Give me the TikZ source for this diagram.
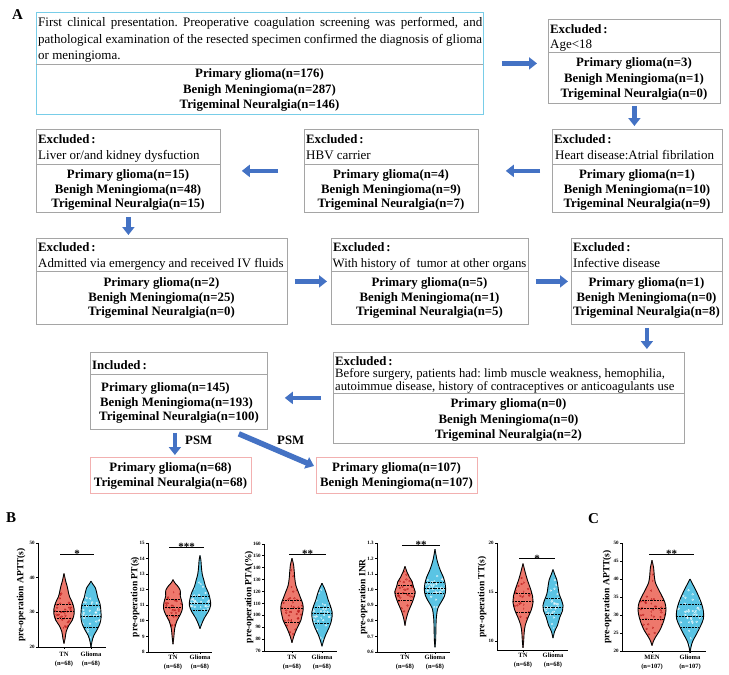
\documentclass[tikz,border=0pt]{standalone}
\usepackage{fontspec}
\setmainfont{Liberation Serif}
\usetikzlibrary{arrows.meta}
\definecolor{arrowblue}{RGB}{68,114,196}
\definecolor{cyanb}{RGB}{120,205,232}
\definecolor{grayb}{RGB}{165,165,165}
\definecolor{pinkb}{RGB}{242,176,176}
\definecolor{vred}{RGB}{238,120,108}
\definecolor{vredd}{RGB}{190,30,30}
\definecolor{vblue}{RGB}{90,196,228}
\definecolor{vblued}{RGB}{232,248,253}
\AtBeginDocument{\frenchspacing}

\newcommand\myviolin[8]{%
  \foreach \sgn in {1,-1}{%
    \begin{scope}[shift={(#1,0)}, xscale=1.12*\sgn]
      \fill[#2] plot[smooth, tension=0.55] coordinates {#4} -- cycle;
      \begin{scope}
        \clip plot[smooth, tension=0.55] coordinates {#4} -- cycle;
        \pgfmathtruncatemacro\sd{#8+5*\sgn+20}%
        \pgfmathsetseed{\sd}%
        \foreach \k in {1,...,40}{%
          \pgfmathsetmacro\dx{rnd*15}%
          \pgfmathsetmacro\dy{#5+(rand+rand)*(#7-#6)*1.1}%
          \draw[#3, line width=0.35pt] (\dx,\dy) circle[radius=0.85pt];
        }
        \draw[black, line width=1pt, dash pattern=on 2pt off 1pt] (0,#5) -- (20,#5);
        \draw[black, line width=0.5pt, dash pattern=on 0.8pt off 0.8pt] (0,#6) -- (20,#6) (0,#7) -- (20,#7);
      \end{scope}
      \draw[black, line width=0.9pt, line join=round] plot[smooth, tension=0.55] coordinates {#4};
    \end{scope}}}

\tikzset{
  box/.style={draw=grayb, line width=0.8pt, rectangle, anchor=north west, inner sep=0pt},
  sepline/.style={draw=grayb, line width=0.6pt},
  barrow/.style={draw=arrowblue, line width=4.5pt, -{Triangle[length=8pt,width=12pt]}},
  hd/.style={anchor=base west, inner sep=0pt, font=\bfseries\fontsize{12.8}{15}\selectfont},
  sub/.style={anchor=base west, inner sep=0pt, font=\fontsize{13}{15}\selectfont},
  cnt/.style={anchor=base, inner sep=0pt, font=\bfseries\fontsize{12.8}{15}\selectfont},
  cntw/.style={anchor=base west, inner sep=0pt, font=\bfseries\fontsize{12.8}{15}\selectfont},
  panel/.style={anchor=base west, inner sep=0pt, font=\bfseries\fontsize{15}{18}\selectfont},
  axisl/.style={black, line width=0.8pt},
  tickl/.style={anchor=east, inner sep=0.3pt, font=\bfseries\fontsize{5}{6}\selectfont},
  catl/.style={anchor=north, inner sep=0pt, align=center, font=\bfseries\fontsize{6.5}{9}\selectfont},
  ylab/.style={rotate=90, inner sep=0pt, font=\bfseries\fontsize{9.5}{11}\selectfont},
  sigl/.style={black, line width=0.9pt},
  starl/.style={anchor=base, inner sep=0pt, font=\bfseries\fontsize{11}{12}\selectfont},
}

\begin{document}
\begin{tikzpicture}[x=1pt, y=-1pt]
\useasboundingbox (0,0) rectangle (729,675);
\fill[white] (0,0) rectangle (729,675);

%================ PANEL A =================
\node[panel] (la) at (12,19) {A};

% Box 1
\node[box, draw=cyanb, minimum width=447pt, minimum height=102pt] (b1) at (36,12) {};
\node[sub] (b1l1) at (38,26.5) {\makebox[444pt][s]{First clinical presentation. Preoperative coagulation screening was performed, and}};
\node[sub] (b1l2) at (38,43) {\makebox[444pt][s]{pathological examination of the resected specimen confirmed the diagnosis of glioma}};
\node[sub] (b1l3) at (38,59.5) {or meningioma.};
\draw[sepline] (36,64) -- (483,64);
\node[cnt] (b1c1) at (259.5,77.5) {Primary glioma(n=176)};
\node[cnt] (b1c2) at (259.5,93) {Benigh Meningioma(n=287)};
\node[cnt] (b1c3) at (259.5,108.5) {Trigeminal Neuralgia(n=146)};

% Box 2 Age<18
\node[box, minimum width=172pt, minimum height=84pt] (b2) at (548,19) {};
\node[hd] (b2h) at (550,33) {Excluded\hspace{2pt}:};
\node[sub] (b2s) at (550,48) {Age<18};
\draw[sepline] (548,52) -- (720,52);
\node[cnt] (b2c1) at (634,66.5) {Primary glioma(n=3)};
\node[cnt] (b2c2) at (634,82) {Benigh Meningioma(n=1)};
\node[cnt] (b2c3) at (634,97.5) {Trigeminal Neuralgia(n=0)};

% Row 2
\node[box, minimum width=184pt, minimum height=83pt] (liver) at (36,129) {};
\node[hd] (liverh) at (38,143) {Excluded\hspace{2pt}:};
\node[sub] (livers) at (38,159) {Liver or/and kidney dysfuction};
\draw[sepline] (36,164) -- (220,164);
\node[cnt] (liverc1) at (128,178.5) {Primary glioma(n=15)};
\node[cnt] (liverc2) at (128,193) {Benigh Meningioma(n=48)};
\node[cnt] (liverc3) at (128,207.5) {Trigeminal Neuralgia(n=15)};

\node[box, minimum width=174pt, minimum height=83pt] (hbv) at (304,129) {};
\node[hd] (hbvh) at (306,143) {Excluded\hspace{2pt}:};
\node[sub] (hbvs) at (306,159) {HBV carrier};
\draw[sepline] (304,164) -- (478,164);
\node[cnt] (hbvc1) at (391,178.5) {Primary glioma(n=4)};
\node[cnt] (hbvc2) at (391,193) {Benigh Meningioma(n=9)};
\node[cnt] (hbvc3) at (391,207.5) {Trigeminal Neuralgia(n=7)};

\node[box, minimum width=170pt, minimum height=83pt] (heart) at (552,129) {};
\node[hd] (hearth) at (554,143) {Excluded\hspace{2pt}:};
\node[sub] (hearts) at (555,159) {Heart disease:Atrial fibrilation};
\draw[sepline] (552,164) -- (722,164);
\node[cnt] (heartc1) at (637,178.5) {Primary glioma(n=1)};
\node[cnt] (heartc2) at (637,193) {Benigh Meningioma(n=10)};
\node[cnt] (heartc3) at (637,207.5) {Trigeminal Neuralgia(n=9)};

% Row 3
\node[box, minimum width=251pt, minimum height=86pt] (adm) at (36,238) {};
\node[hd] (admh) at (38,251) {Excluded\hspace{2pt}:};
\node[sub, font=\fontsize{12.9}{15}\selectfont] (adms) at (38,267) {Admitted via emergency and received IV fluids};
\draw[sepline] (36,271.5) -- (287,271.5);
\node[cnt] (admc1) at (161.5,286.5) {Primary glioma(n=2)};
\node[cnt] (admc2) at (161.5,301) {Benigh Meningioma(n=25)};
\node[cnt] (admc3) at (161.5,315.5) {Trigeminal Neuralgia(n=0)};

\node[box, minimum width=197pt, minimum height=86pt] (hist) at (331,238) {};
\node[hd] (histh) at (333,251) {Excluded\hspace{2pt}:};
\node[sub, font=\fontsize{12.8}{15}\selectfont] (hists) at (332.5,267) {With history of\ \ tumor at other organs};
\draw[sepline] (331,271.5) -- (528,271.5);
\node[cnt] (histc1) at (429.5,286.5) {Primary glioma(n=5)};
\node[cnt] (histc2) at (429.5,301) {Benigh Meningioma(n=1)};
\node[cnt] (histc3) at (429.5,315.5) {Trigeminal Neuralgia(n=5)};

\node[box, minimum width=151pt, minimum height=86pt] (inf) at (571,238) {};
\node[hd] (infh) at (573,251) {Excluded\hspace{2pt}:};
\node[sub] (infs) at (573,267) {Infective disease};
\draw[sepline] (571,271.5) -- (722,271.5);
\node[cnt] (infc1) at (646.5,286.5) {Primary glioma(n=1)};
\node[cnt] (infc2) at (646.5,301) {Benigh Meningioma(n=0)};
\node[cnt] (infc3) at (646.5,315.5) {Trigeminal Neuralgia(n=8)};

% Row 4
\node[box, minimum width=351pt, minimum height=91pt] (ex4) at (333,352) {};
\node[hd] (ex4h) at (335,365.5) {Excluded\hspace{2pt}:};
\node[sub, font=\fontsize{12.7}{15}\selectfont] (ex4s1) at (335,377) {Before surgery, patients had: limb muscle weakness, hemophilia,};
\node[sub, font=\fontsize{12.7}{15}\selectfont] (ex4s2) at (335,390.5) {autoimmue disease, history of contraceptives or anticoagulants use};
\draw[sepline] (333,393.5) -- (684,393.5);
\node[cnt] (ex4c1) at (508.5,407.5) {Primary glioma(n=0)};
\node[cnt] (ex4c2) at (508.5,423) {Benigh Meningioma(n=0)};
\node[cnt] (ex4c3) at (508.5,438.5) {Trigeminal Neuralgia(n=2)};

\node[box, minimum width=177pt, minimum height=77pt] (inc) at (90,352) {};
\node[hd] (inch) at (92,369) {Included\hspace{2pt}:};
\draw[sepline] (90,374.5) -- (267,374.5);
\node[cntw] (incc1) at (101,391) {Primary glioma(n=145)};
\node[cntw] (incc2) at (100,406) {Benigh Meningioma(n=193)};
\node[cntw] (incc3) at (99,420.5) {Trigeminal Neuralgia(n=100)};

% PSM boxes
\node[box, draw=pinkb, minimum width=161pt, minimum height=36pt] (psm1) at (90,457) {};
\node[cnt] (psm1c1) at (170.5,471.5) {Primary glioma(n=68)};
\node[cnt] (psm1c2) at (170.5,486.5) {Trigeminal Neuralgia(n=68)};
\node[box, draw=pinkb, minimum width=161pt, minimum height=36pt] (psm2) at (316,457) {};
\node[cnt] (psm2c1) at (396.5,471.5) {Primary glioma(n=107)};
\node[cnt] (psm2c2) at (396.5,486.5) {Benigh Meningioma(n=107)};

\node[cntw] (psml1) at (185,444.5) {PSM};
\node[cntw] (psml2) at (277,444.5) {PSM};

% Arrows
\draw[barrow, shorten <=18pt, shorten >=11pt] (b1.east) -- (b1.east -| b2.west);
\draw[barrow, shorten <=2pt, shorten >=3pt] (b2.south) -- (b2.south |- heart.north);
\draw[barrow, shorten <=12pt, shorten >=27pt] (heart.west) -- (heart.west -| hbv.east);
\draw[barrow, shorten <=26pt, shorten >=21pt] (hbv.west) -- (hbv.west -| liver.east);
\draw[barrow, shorten <=4pt, shorten >=3pt] (liver.south) -- (liver.south |- adm.north);
\draw[barrow, shorten <=7pt, shorten >=4pt] (adm.east) -- (adm.east -| hist.west);
\draw[barrow, shorten <=7pt, shorten >=3pt] (hist.east) -- (hist.east -| inf.west);
\draw[barrow, shorten <=3pt, shorten >=3pt] (inf.south) -- (inf.south |- ex4.north);
\draw[barrow, shorten <=12pt, shorten >=17pt] (ex4.west) -- (ex4.west -| inc.east);
\draw[barrow, shorten <=3pt, shorten >=2pt] ([xshift=-4pt]inc.south) -- ([xshift=-4pt]inc.south |- psm1.north);
\draw[barrow, line width=5.5pt] ([xshift=-29pt,yshift=-4pt]inc.south east) -- ([xshift=-2pt,yshift=-9pt]psm2.north west);

%================ PANEL B / C =================
\node[panel] (lb) at (6,522) {B};
\node[panel] (lc) at (588,523) {C};

% Plot 1 APTT
\begin{scope}[shift={(38,647)}, y={(0,3.467pt)}, shift={(0,-20)}]
  \myviolin{26}{vred}{vredd}{(0,21) (1,22.5) (2,24.5) (4.5,26.3) (7.5,27.8) (9,29.5) (9,31) (7.5,32.8) (5,34.5) (3.8,36) (3,37.3) (1.5,39) (0.5,40.5) (0,41.2)}{30.3}{28.2}{32.2}{11}
  \myviolin{53}{vblue}{vblued}{(0,19.8) (0.8,21.5) (2.5,23.3) (5.5,25) (8,26.8) (9,28.5) (8.8,30.5) (8,32.5) (6,34.3) (5,35.8) (4,37) (1.5,38.2) (0,39)}{28.8}{25.8}{32}{12}
  \draw[axisl] (0,50) -- (0,20) -- (68,20);
  \foreach \t [count=\i] in {20,30,40,50}{\draw[axisl] (0,\t) -- (-2.5,\t); \node[tickl] (p1t\i) at (-3,\t) {\t};}
  \draw[axisl] (26,20) -- ([yshift=-2pt]26,20);
  \draw[axisl] (53,20) -- ([yshift=-2pt]53,20);
  \node[catl] (p1c1) at ([yshift=-5pt]26,20) {TN\\(n=68)};
  \node[catl] (p1c2) at ([yshift=-5pt]53,20) {Glioma\\(n=68)};
  \node[ylab] (p1y) at (-17,35) {pre-operation APTT(s)};
  \draw[sigl] (22,46.8) -- (56,46.8);
  \node[starl] (p1s) at ([yshift=-3.5pt]39,46.8) {*};
\end{scope}

% Plot 2 PT
\begin{scope}[shift={(148,652)}, y={(0,15.57pt)}, shift={(0,-8)}]
  \myviolin{25}{vred}{vredd}{(0,8.5) (0.8,9) (1.5,9.5) (3.5,10) (6.5,10.4) (8.5,10.8) (8,11.2) (6.5,11.6) (6.5,11.95) (4,12.25) (1.5,12.45) (0,12.65)}{10.85}{10.35}{11.4}{21}
  \myviolin{52}{vblue}{vblued}{(0,9.5) (1.5,9.8) (4,10.2) (7.5,10.6) (9.5,11) (9,11.4) (7.5,11.8) (5,12.2) (3.5,12.6) (2,13) (1.2,13.5) (0.8,13.9) (0,14.2)}{11.1}{10.7}{11.55}{22}
  \draw[axisl] (0,15) -- (0,8) -- (64,8);
  \foreach \t [count=\i] in {8,9,10,11,12,13,14,15}{\draw[axisl] (0,\t) -- (-2.5,\t); \node[tickl] (p2t\i) at (-3,\t) {\t};}
  \draw[axisl] (25,8) -- ([yshift=-2pt]25,8);
  \draw[axisl] (52,8) -- ([yshift=-2pt]52,8);
  \node[catl] (p2c1) at ([yshift=-3pt]25,8) {TN\\(n=68)};
  \node[catl] (p2c2) at ([yshift=-3pt]52,8) {Glioma\\(n=68)};
  \node[ylab] (p2y) at (-13,11.53) {pre-operation PT(s)};
  \draw[sigl] (21,14.74) -- (56,14.74);
  \node[starl] (p2s) at ([yshift=-3.5pt]38.5,14.74) {***};
\end{scope}

% Plot 3 PTA
\begin{scope}[shift={(264,651)}, y={(0,1.189pt)}, shift={(0,-70)}]
  \myviolin{28}{vred}{vredd}{(0,77) (1.5,82) (3.5,87) (6,92) (8,96) (9,100) (10,105) (9.5,110) (7.5,115) (5.5,120) (3.5,125) (2.5,131) (2,137) (1.5,142) (0,148)}{106}{94}{113}{31}
  \myviolin{58}{vblue}{vblued}{(0,74) (1.5,79) (3.5,84) (6,89) (8,94) (9,99) (9,103) (7.5,108) (5.5,113) (4,118) (2.5,122) (0,127)}{101.5}{93.5}{107}{32}
  \draw[axisl] (0,160) -- (0,70) -- (73,70);
  \foreach \t [count=\i] in {70,80,90,100,110,120,130,140,150,160}{\draw[axisl] (0,\t) -- (-2.5,\t); \node[tickl] (p3t\i) at (-3,\t) {\t};}
  \draw[axisl] (28,70) -- ([yshift=-2pt]28,70);
  \draw[axisl] (58,70) -- ([yshift=-2pt]58,70);
  \node[catl] (p3c1) at ([yshift=-4pt]28,70) {TN\\(n=68)};
  \node[catl] (p3c2) at ([yshift=-4pt]58,70) {Glioma\\(n=68)};
  \node[ylab] (p3y) at (-15,115.4) {pre-operation PTA(\%)};
  \draw[sigl] (25,151.6) -- (62,151.6);
  \node[starl] (p3s) at ([yshift=-3.5pt]43.5,151.6) {**};
\end{scope}

% Plot 4 INR
\begin{scope}[shift={(377,652)}, y={(0,155.7pt)}, shift={(0,-0.6)}]
  \myviolin{28}{vred}{vredd}{(0,0.77) (1,0.81) (3,0.86) (6,0.91) (8.5,0.96) (9,0.99) (7.5,1.02) (6.5,1.05) (4,1.08) (2,1.11) (0,1.15)}{0.975}{0.93}{1.03}{41}
  \myviolin{58}{vblue}{vblued}{(0,0.63) (0.6,0.68) (0.8,0.75) (1.2,0.82) (2.5,0.88) (5.5,0.92) (8.5,0.96) (9.5,1.0) (9,1.04) (7.5,1.08) (5,1.12) (3,1.16) (1.5,1.2) (0,1.26)}{1.01}{0.975}{1.05}{42}
  \draw[axisl] (0,1.3) -- (0,0.6) -- (73,0.6);
  \foreach \t [count=\i] in {0.6,0.7,0.8,0.9,1.0,1.1,1.2,1.3}{\draw[axisl] (0,\t) -- (-2.5,\t); \node[tickl] (p4t\i) at (-3,\t) {\t};}
  \draw[axisl] (28,0.6) -- ([yshift=-2pt]28,0.6);
  \draw[axisl] (58,0.6) -- ([yshift=-2pt]58,0.6);
  \node[catl] (p4c1) at ([yshift=-3pt]28,0.6) {TN\\(n=68)};
  \node[catl] (p4c2) at ([yshift=-3pt]58,0.6) {Glioma\\(n=68)};
  \node[ylab] (p4y) at (-14,0.953) {pre-operation INR};
  \draw[sigl] (25,1.287) -- (63,1.287);
  \node[starl] (p4s) at ([yshift=-3.5pt]44,1.287) {**};
\end{scope}

% Plot 5 TT
\begin{scope}[shift={(497,641)}, y={(0,9.8pt)}, shift={(0,-10)}]
  \myviolin{26}{vred}{vredd}{(0,9.3) (0.6,10) (1,10.8) (2,11.6) (4.5,12.4) (7.5,13.2) (9,14) (8.5,14.6) (6.5,15.4) (4,16.2) (2,17) (0,17.9)}{14}{12.9}{14.9}{51}
  \myviolin{56}{vblue}{vblued}{(0,10.3) (1.5,11) (4,11.6) (6,12.4) (8.5,13.1) (9,13.6) (7.5,14.2) (5.5,14.8) (4.5,15.5) (3.5,16.2) (1.5,16.8) (0,17.3)}{13.4}{12.7}{14.4}{52}
  \draw[axisl] (0,20) -- (0,9.08) -- (71,9.08);
  \foreach \t [count=\i] in {10,15,20}{\draw[axisl] (0,\t) -- (-2.5,\t); \node[tickl] (p5t\i) at (-3,\t) {\t};}
  \draw[axisl] (26,9.08) -- ([yshift=-2pt]26,9.08);
  \draw[axisl] (56,9.08) -- ([yshift=-2pt]56,9.08);
  \node[catl] (p5c1) at ([yshift=-3pt]26,9.08) {TN\\(n=68)};
  \node[catl] (p5c2) at ([yshift=-3pt]56,9.08) {Glioma\\(n=68)};
  \node[ylab] (p5y) at (-15,14.49) {pre-operation TT(s)};
  \draw[sigl] (22,18.4) -- (58,18.4);
  \node[starl] (p5s) at ([yshift=-3.5pt]40,18.4) {*};
\end{scope}

% Plot 6 APTT (C)
\begin{scope}[shift={(622,651)}, y={(0,3.6pt)}, shift={(0,-20)}]
  \myviolin{30}{vred}{vredd}{(0,21.5) (1,22.5) (3,23.8) (6.5,25.5) (9.5,27.5) (11.5,29.5) (12.5,31.5) (11.5,33.5) (8.5,35.5) (5.5,37.3) (3,39) (2,41) (1.5,43) (0,45.2)}{31.7}{28.8}{34}{61}
  \myviolin{68}{vblue}{vblued}{(0,19.5) (0.8,21) (2.5,22.8) (6,24.8) (9.5,27) (12,29) (12,31) (10.5,33) (8,35) (5,37) (2.5,38.5) (0,40)}{29.5}{26.5}{33}{62}
  \draw[axisl] (0,50) -- (0,20) -- (84,20);
  \foreach \t [count=\i] in {20,25,30,35,40,45,50}{\draw[axisl] (0,\t) -- (-2.5,\t); \node[tickl] (p6t\i) at (-3,\t) {\t};}
  \draw[axisl] (30,20) -- ([yshift=-2pt]30,20);
  \draw[axisl] (68,20) -- ([yshift=-2pt]68,20);
  \node[catl] (p6c1) at ([yshift=-4pt]30,20) {MEN\\(n=107)};
  \node[catl] (p6c2) at ([yshift=-4pt]68,20) {Glioma\\(n=107)};
  \node[ylab] (p6y) at (-15,35) {pre-operation APTT(s)};
  \draw[sigl] (27,46.9) -- (72,46.9);
  \node[starl] (p6s) at ([yshift=-3.5pt]49.5,46.9) {**};
\end{scope}
\end{tikzpicture}
\end{document}
